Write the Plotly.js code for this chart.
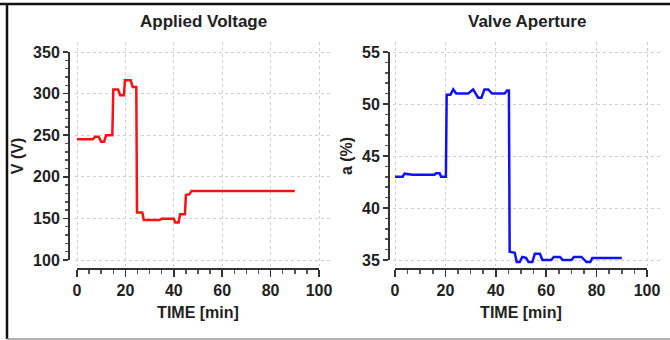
<!DOCTYPE html>
<html>
<head>
<meta charset="utf-8">
<script src="https://cdn.plot.ly/plotly-3.0.1.min.js"></script>
<style>html,body{margin:0;padding:0;background:#fff}#chart{width:670px;height:340px}</style>
</head>
<body>
<div id="chart"></div>
<script>
// ---- data ----
const voltageTime = [0, 6.5, 7.5, 9, 10, 11.2, 12, 14.6, 15, 17, 17.8, 19.4, 19.8, 22.2, 23, 24.5, 24.8, 27, 27.6, 34, 35, 40, 40.6, 42, 42.6, 44.6, 45, 46.5, 47.3, 90];
const voltageValues = [245, 245, 248, 248, 242, 242, 250, 250, 305, 305, 298, 298, 316, 316, 308, 308, 157, 157, 148, 148, 149.5, 149.5, 145, 145, 155, 155, 178, 179, 183, 183];

const valveTime = [0, 3, 3.8, 7, 15.7, 16.3, 17.7, 18.3, 20.2, 20.5, 22, 23.1, 24.3, 29, 31, 32, 33, 34.3, 35.5, 37, 38.5, 43.5, 44.5, 45.2, 45.5, 47.5, 48.3, 49.5, 50.5, 52, 53, 54.5, 55.5, 57.5, 58.5, 62, 63, 65.5, 66.5, 70, 71, 74, 75, 76, 77.5, 78.3, 90];
const valveValues = [43.0, 43.0, 43.3, 43.2, 43.2, 43.35, 43.35, 43.0, 43.0, 50.9, 50.9, 51.4, 51.0, 51.0, 51.4, 51.0, 50.6, 50.6, 51.4, 51.4, 51.0, 51.0, 51.3, 51.3, 35.8, 35.7, 34.8, 34.8, 35.3, 35.2, 34.8, 34.8, 35.6, 35.6, 35.0, 35.0, 35.3, 35.3, 35.0, 35.0, 35.3, 35.3, 35.0, 34.8, 34.8, 35.2, 35.2];

const xTicks = [0, 20, 40, 60, 80, 100];
const voltageTicks = [100, 150, 200, 250, 300, 350];
const valveTicks = [35, 40, 45, 50, 55];

const titles = ["Applied Voltage", "Valve Aperture"];
const yTitles = ["V (V)", "a (%)"];
const xTitle = "TIME [min]";

// ---- layout helpers ----
const W = 670, H = 340;
const fx = p => p / W;
const fy = p => 1 - p / H;
function mapRange(p0, v0, p1, v1, a, b) {
  const k = (v1 - v0) / (p1 - p0);
  return [v0 + (a - p0) * k, v0 + (b - p0) * k];
}

const FONT = {family: "Liberation Sans, Arial, sans-serif", size: 16, color: "#222", weight: "bold"};
const TFONT = Object.assign({}, FONT, {size: 17});
const gridStyle = {showgrid: true, gridcolor: "#cfcfcf", griddash: "dot", gridwidth: 1,
  showline: false, zeroline: false, showticklabels: false, ticks: "", fixedrange: true};
const tickAxX = {showgrid: false, zeroline: false, showline: true, linecolor: "#333", linewidth: 2,
  ticks: "outside", ticklen: 7, tickwidth: 1.5, tickcolor: "#333", tickvals: xTicks, range: [0, 100],
  minor: {dtick: 5, ticklen: 4, tickcolor: "#555", ticks: "outside"},
  tickfont: FONT, title: {text: xTitle, font: FONT, standoff: 8}, anchor: "free", fixedrange: true};
const tickAxY = {showgrid: false, zeroline: false, showline: true, linecolor: "#333", linewidth: 2,
  ticks: "outside", ticklen: 5, tickwidth: 1.5, tickcolor: "#333", tickfont: FONT, anchor: "free", fixedrange: true};

const L = {x0: 77, x100: 319, yTopPx: 52, yBotPx: 260, axisX: 69, gridL: 75, gridR: 333};
const R = {x0: 395, x100: 647, yTopPx: 52, yBotPx: 260, axisX: 389, gridL: 393, gridR: 662};
const gridTop = 42, gridBot = 266, xAxisY = 269;

const layout = {
  width: W, height: H, margin: {l: 0, r: 0, t: 0, b: 0},
  paper_bgcolor: "#fff", plot_bgcolor: "rgba(0,0,0,0)", showlegend: false,
  xaxis: Object.assign({}, gridStyle, {domain: [fx(L.gridL), fx(L.gridR)], range: mapRange(L.x0, 0, L.x100, 100, L.gridL, L.gridR), tickvals: xTicks, anchor: "y"}),
  yaxis: Object.assign({}, gridStyle, {domain: [fy(gridBot), fy(gridTop)], range: mapRange(L.yBotPx, 100, L.yTopPx, 350, gridBot, gridTop), tickvals: voltageTicks, anchor: "x"}),
  xaxis2: Object.assign({}, tickAxX, {domain: [fx(L.x0), fx(L.x100)], position: fy(xAxisY)}),
  yaxis2: Object.assign({}, tickAxY, {domain: [fy(L.yBotPx), fy(L.yTopPx)], range: [100, 350], tickvals: voltageTicks,
    minor: {dtick: 10, ticklen: 3, tickcolor: "#555", ticks: "outside"}, position: fx(L.axisX),
    title: {text: yTitles[0], font: FONT, standoff: 4}}),
  xaxis3: Object.assign({}, gridStyle, {domain: [fx(R.gridL), fx(R.gridR)], range: mapRange(R.x0, 0, R.x100, 100, R.gridL, R.gridR), tickvals: xTicks, anchor: "y3"}),
  yaxis3: Object.assign({}, gridStyle, {domain: [fy(gridBot), fy(gridTop)], range: mapRange(R.yBotPx, 35, R.yTopPx, 55, gridBot, gridTop), tickvals: valveTicks, anchor: "x3"}),
  xaxis4: Object.assign({}, tickAxX, {domain: [fx(R.x0), fx(R.x100)], position: fy(xAxisY)}),
  yaxis4: Object.assign({}, tickAxY, {domain: [fy(R.yBotPx), fy(R.yTopPx)], range: [35, 55], tickvals: valveTicks,
    minor: {dtick: 1, ticklen: 3, tickcolor: "#555", ticks: "outside"}, position: fx(R.axisX),
    title: {text: yTitles[1], font: FONT, standoff: 4}}),
  annotations: [
    {text: titles[0], xref: "paper", yref: "paper", x: fx(203), y: fy(22), showarrow: false, font: TFONT, xanchor: "center", yanchor: "middle"},
    {text: titles[1], xref: "paper", yref: "paper", x: fx(527), y: fy(22), showarrow: false, font: TFONT, xanchor: "center", yanchor: "middle"}
  ],
  shapes: [
    {type: "line", xref: "paper", yref: "paper", x0: 0, x1: 1, y0: fy(4), y1: fy(4), line: {color: "#111", width: 2.5}},
    {type: "line", xref: "paper", yref: "paper", x0: fx(7), x1: fx(7), y0: fy(3), y1: fy(339), line: {color: "#111", width: 2.5}},
    {type: "line", xref: "paper", yref: "paper", x0: fx(7), x1: 1, y0: fy(339), y1: fy(339), line: {color: "#999", width: 1.5}}
  ]
};

const data = [
  {x: voltageTime, y: voltageValues, xaxis: "x", yaxis: "y", type: "scatter", mode: "lines", line: {color: "#ff1010", width: 2.5}, hoverinfo: "skip"},
  {x: [], y: [], xaxis: "x2", yaxis: "y2", type: "scatter", mode: "lines", hoverinfo: "skip"},
  {x: valveTime, y: valveValues, xaxis: "x3", yaxis: "y3", type: "scatter", mode: "lines", line: {color: "#1010ff", width: 2.5}, hoverinfo: "skip"},
  {x: [], y: [], xaxis: "x4", yaxis: "y4", type: "scatter", mode: "lines", hoverinfo: "skip"}
];

Plotly.newPlot("chart", data, layout, {staticPlot: true, displayModeBar: false});
</script>
</body>
</html>
